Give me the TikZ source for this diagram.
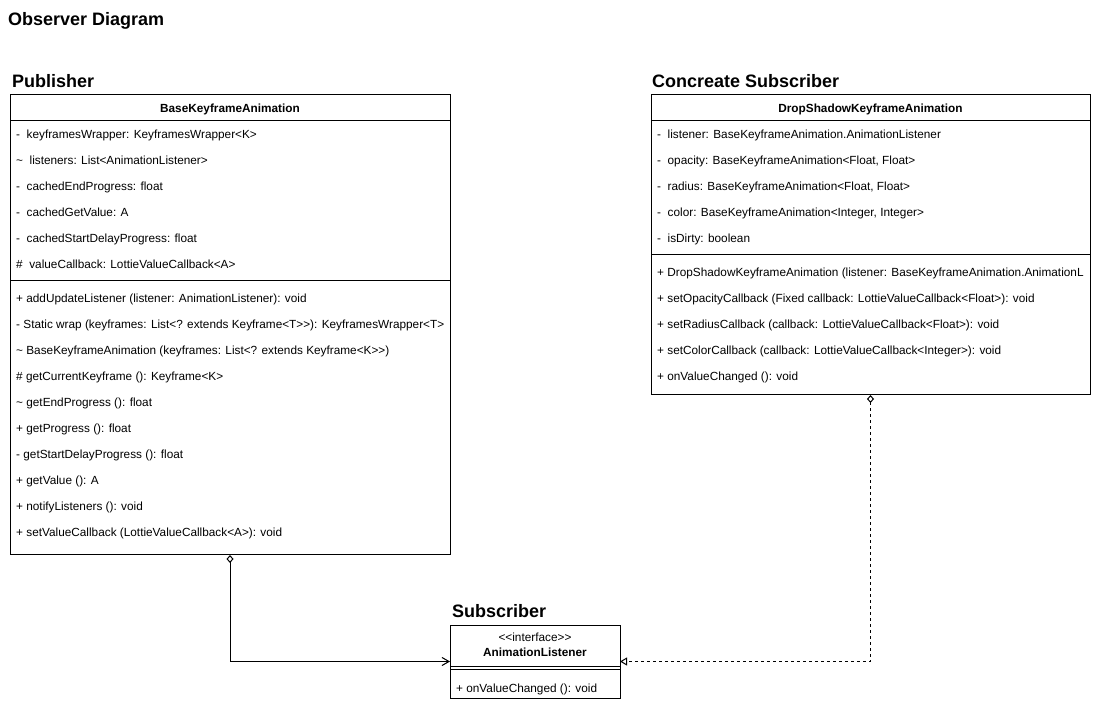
\documentclass[tikz,border=0pt]{standalone}
\usepackage{fontspec}
\newfontfamily\umlfont{Liberation Sans}
\usetikzlibrary{arrows.meta}
\begin{document}
\begin{tikzpicture}[x=1pt,y=-1pt,
  classbox/.style={draw=black, line width=1pt, fill=white, inner sep=0pt, outer sep=0pt, anchor=north west},
  member/.style={anchor=base west, inner sep=0pt, font=\umlfont\fontsize{11.8}{14}\selectfont},
  centered/.style={anchor=base, inner sep=0pt, font=\umlfont\fontsize{11.8}{14}\selectfont},
  classname/.style={anchor=base, inner sep=0pt, font=\umlfont\fontsize{11.8}{14}\selectfont\bfseries},
  heading/.style={anchor=base west, inner sep=0pt, font=\umlfont\fontsize{18}{21}\selectfont\bfseries},
  divider/.style={line width=1pt},
  aggregation/.style={line width=1pt, {Diamond[open,length=8pt,width=7pt]}-{Straight Barb[length=7pt,width=8pt]}},
  realization/.style={line width=1pt, dash pattern=on 3pt off 3pt, {Diamond[open,length=8pt,width=7pt]}-{Triangle[open,length=7pt,width=8pt]}}
]
\useasboundingbox[fill=white] (0,0) rectangle (1096,708);

% headings
\node[heading] (title) at (8,26) {Observer Diagram};
\node[heading] (hpub) at (12,88) {Publisher};
\node[heading] (hsub) at (652,88) {Concreate Subscriber};
\node[heading] (hifc) at (452,617) {Subscriber};

% publisher class
\node[classbox, minimum width=440pt, minimum height=460pt] (pub) at (10,95) {};
\node[classname] (pubname) at (230,113) {BaseKeyframeAnimation};
\draw[divider] (10,121) -- (450,121);
\draw[divider] (10,281) -- (450,281);
\foreach \txt [count=\i] in {
  {-\ \ keyframesWrapper: KeyframesWrapper<K>},
  {\textasciitilde\ \ listeners: List<AnimationListener>},
  {-\ \ cachedEndProgress: float},
  {-\ \ cachedGetValue: A},
  {-\ \ cachedStartDelayProgress: float},
  {\#\ \ valueCallback: LottieValueCallback<A>}}
  \node[member] (pa\i) at (16,113+26*\i) {\txt};
\foreach \txt [count=\i] in {
  {+ addUpdateListener (listener: AnimationListener): void},
  {- Static wrap (keyframes: List<? extends Keyframe<T>\kern0pt>): KeyframesWrapper<T>},
  {\textasciitilde\ BaseKeyframeAnimation (keyframes: List<? extends Keyframe<K>\kern0pt>)},
  {\# getCurrentKeyframe (): Keyframe<K>},
  {\textasciitilde\ getEndProgress (): float},
  {+ getProgress (): float},
  {- getStartDelayProgress (): float},
  {+ getValue (): A},
  {+ notifyListeners (): void},
  {+ setValueCallback (LottieValueCallback<A>): void}}
  \node[member] (pm\i) at (16,277+26*\i) {\txt};

% concrete subscriber class
\node[classbox, minimum width=439pt, minimum height=300pt] (sub) at (651,95) {};
\node[classname] (subname) at (870.5,113) {DropShadowKeyframeAnimation};
\draw[divider] (651,121) -- (1090,121);
\draw[divider] (651,255) -- (1090,255);
\foreach \txt [count=\i] in {
  {-\ \ listener: BaseKeyframeAnimation.AnimationListener},
  {-\ \ opacity: BaseKeyframeAnimation<Float, Float>},
  {-\ \ radius: BaseKeyframeAnimation<Float, Float>},
  {-\ \ color: BaseKeyframeAnimation<Integer, Integer>},
  {-\ \ isDirty: boolean}}
  \node[member] (sa\i) at (657,113+26*\i) {\txt};
\begin{scope}
  \clip (651,256) rectangle (1089,394);
  \node[member] (sm1) at (657,277) {+ DropShadowKeyframeAnimation (listener: BaseKeyframeAnimation.AnimationL};
\end{scope}
\foreach \txt [count=\i from 2] in {
  {+ setOpacityCallback (Fixed callback: LottieValueCallback<Float>): void},
  {+ setRadiusCallback (callback: LottieValueCallback<Float>): void},
  {+ setColorCallback (callback: LottieValueCallback<Integer>): void},
  {+ onValueChanged (): void}}
  \node[member] (sm\i) at (657,251+26*\i) {\txt};

% listener interface
\node[classbox, minimum width=170pt, minimum height=73pt] (ifc) at (450,625) {};
\node[centered] (ifcst) at (535,641) {<\kern0pt<interface>\kern0pt>};
\node[classname] (ifcname) at (535,656) {AnimationListener};
\draw[divider] (450,666) -- (620,666);
\draw[divider] (450,669.5) -- (620,669.5);
\node[member] (im1) at (456,692) {+ onValueChanged (): void};

% relations
\draw[aggregation] (pub.south) |- (ifc.west);
\draw[realization] (sub.south) |- (ifc.east);
\end{tikzpicture}
\end{document}
